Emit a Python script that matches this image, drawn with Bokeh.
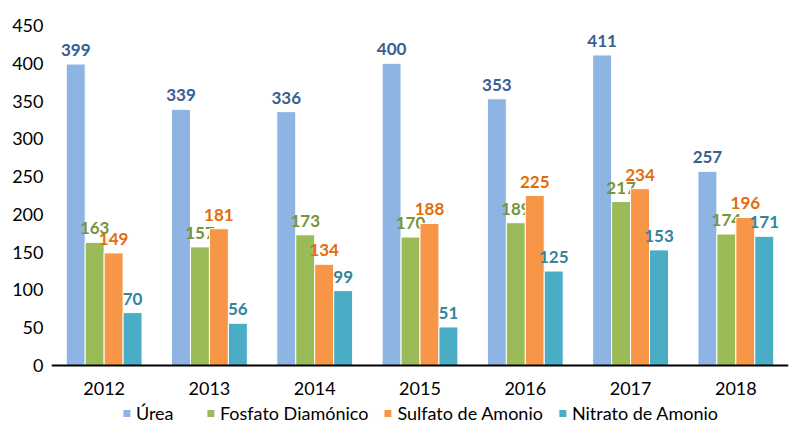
from bokeh.plotting import figure
from bokeh.models import (ColumnDataSource, FactorRange, Legend, LegendItem, FixedTicker, Span)
from bokeh.transform import dodge
from bokeh.core.properties import value
from bokeh.embed import file_html
from bokeh.resources import INLINE

years = ["2012", "2013", "2014", "2015", "2016", "2017", "2018"]
urea = [399, 339, 336, 400, 353, 411, 257]
fosfato = [163, 157, 173, 170, 189, 217, 174]
sulfato = [149, 181, 134, 188, 225, 234, 196]
nitrato = [70, 56, 99, 51, 125, 153, 171]
y_ticks = [0, 50, 100, 150, 200, 250, 300, 350, 400, 450]

series_names = ["Úrea", "Fosfato Diamónico", "Sulfato de Amonio", "Nitrato de Amonio"]
bar_colors = ["#8EB4E3", "#9BBB59", "#F79646", "#4BACC6"]
label_colors = ["#376092", "#77933C", "#E46C0A", "#31859C"]

src = ColumnDataSource(dict(x=years, base=[0] * len(years),
                            urea=urea, fosfato=fosfato, sulfato=sulfato, nitrato=nitrato,
                            urea_t=[str(v) for v in urea], fosfato_t=[str(v) for v in fosfato],
                            sulfato_t=[str(v) for v in sulfato], nitrato_t=[str(v) for v in nitrato]))

# frame reaches the bottom of the page; value 0 sits 340px below 450 (frame top)
y_max = 450
y_min = -y_max * 60 / 340
p = figure(frame_width=737, frame_height=400, x_range=FactorRange(*years, range_padding=0),
           y_range=(y_min, y_max), output_backend="svg", toolbar_location=None,
           x_axis_location=None,
           min_border_left=51, min_border_right=2, min_border_top=25, min_border_bottom=0)
p.outline_line_color = None
p.xgrid.grid_line_color = None
p.ygrid.grid_line_color = None

FONT = "Lato"
keys = ["urea", "fosfato", "sulfato", "nitrato"]
offsets = [-0.27, -0.09, 0.09, 0.27]
w = 0.18
renderers = []
for k, off, c, lc in zip(keys, offsets, bar_colors, label_colors):
    r = p.vbar(x=dodge("x", off, range=p.x_range), top=k, bottom="base", width=w, source=src,
               fill_color=c, line_color="white", line_width=1)
    renderers.append(r)
    p.text(x=dodge("x", off, range=p.x_range), y=k, text=k + "_t", source=src,
           text_align="center", text_baseline="alphabetic", y_offset=-14,
           text_font=value(FONT), text_font_style="bold", text_font_size="17px",
           text_color=lc)

# category axis: baseline and year labels
p.add_layout(Span(location=0, dimension="width", line_color="black", line_width=2))
p.text(x="x", y="base", text="x", source=src, text_align="center", text_baseline="middle",
       y_offset=23, text_font=value(FONT), text_font_size="18px", text_color="#000000")

p.yaxis.ticker = FixedTicker(ticks=y_ticks)
p.yaxis.axis_line_color = None
p.yaxis.major_tick_line_color = None
p.yaxis.minor_tick_line_color = None
p.yaxis.major_tick_out = 0
p.yaxis.minor_tick_out = 0
p.yaxis.major_label_text_font = FONT
p.yaxis.major_label_text_font_size = "18px"
p.yaxis.major_label_text_color = "#000000"
p.yaxis.major_label_standoff = 8

legend = Legend(items=[LegendItem(label=n, renderers=[r]) for n, r in zip(series_names, renderers)],
                orientation="horizontal", location="bottom_center",
                label_text_font=FONT, label_text_font_size="18px", label_text_color="#000000",
                glyph_width=10, glyph_height=10, spacing=14, label_standoff=5,
                label_width=55, label_height=18, border_line_color=None,
                background_fill_alpha=0, padding=0, margin=1)
p.add_layout(legend)

open("out.html", "w").write(file_html(p, INLINE))
